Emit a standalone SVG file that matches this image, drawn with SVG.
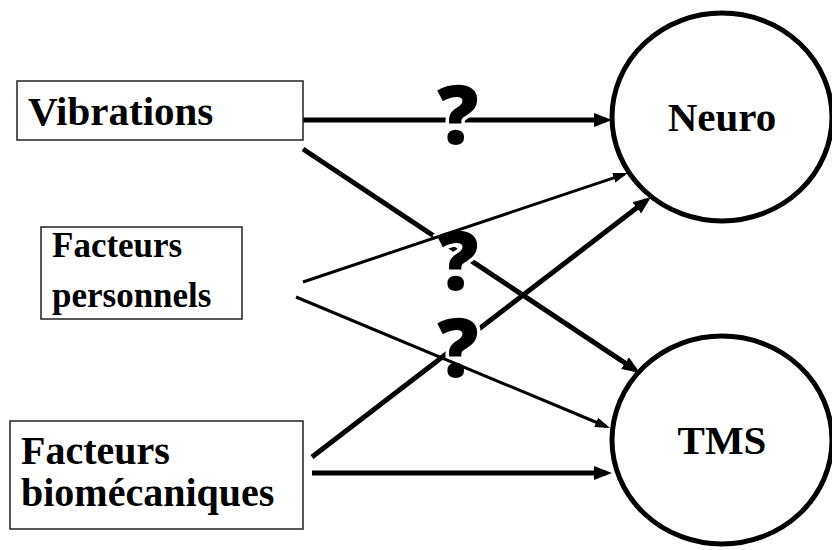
<svg xmlns="http://www.w3.org/2000/svg" width="832" height="550" viewBox="0 0 832 550">
<style>
.box{fill:#fff;stroke:#222;stroke-width:1.5}
.lbl{font-family:"Liberation Serif","Times New Roman",serif;font-weight:bold;fill:#000}
.ell{fill:#fff;stroke:#000;stroke-width:5}
.thick{stroke:#000;stroke-width:5;fill:none}
.thin{stroke:#000;stroke-width:3;fill:none}
.q{font-family:"Open Sans","DejaVu Sans",sans-serif;font-weight:800;font-size:82px;fill:#000;stroke:#fff;stroke-width:7;paint-order:stroke;text-anchor:middle}
</style>
<defs>
<marker id="ahT" markerUnits="userSpaceOnUse" markerWidth="18" markerHeight="16" viewBox="0 0 18 16" refX="12" refY="8" orient="auto">
<path d="M0,1 L18,8 L0,15 Z" fill="#000"/>
</marker>
<marker id="aht" markerUnits="userSpaceOnUse" markerWidth="15" markerHeight="12" viewBox="0 0 15 12" refX="11" refY="6" orient="auto">
<path d="M0,1 L15,6 L0,11 Z" fill="#000"/>
</marker>
</defs>
<rect width="832" height="550" fill="#fff"/>
<g id="connectors">
<line class="thick" x1="303" y1="120" x2="606" y2="120" marker-end="url(#ahT)"/>
<line class="thick" x1="303" y1="149" x2="635" y2="369.7" marker-end="url(#ahT)"/>
<line class="thick" x1="312" y1="457" x2="646.3" y2="200.6" marker-end="url(#ahT)"/>
<line class="thick" x1="312" y1="473" x2="606" y2="473" marker-end="url(#ahT)"/>
<text class="q" x="458" y="144">?</text>
<text class="q" x="458" y="290">?</text>
<text class="q" x="458" y="377">?</text>
<line class="thin" x1="303" y1="282" x2="624.2" y2="174.3" marker-end="url(#aht)"/>
<line class="thin" x1="296" y1="297" x2="606.3" y2="426.5" marker-end="url(#aht)"/>
</g>
<g id="vibrations">
<rect class="box" x="17" y="81" width="286" height="59"/>
<text class="lbl" x="28" y="125" font-size="41">Vibrations</text>
</g>
<g id="personnels">
<rect class="box" x="41" y="227" width="201" height="92"/>
<text class="lbl" x="52" y="257" font-size="35">Facteurs</text>
<text class="lbl" x="52" y="307" font-size="35">personnels</text>
</g>
<g id="biomecaniques">
<rect class="box" x="10" y="421" width="293" height="108"/>
<text class="lbl" x="21" y="464" font-size="40">Facteurs</text>
<text class="lbl" x="21" y="506" font-size="40">biomécaniques</text>
</g>
<g id="neuro">
<ellipse class="ell" cx="722" cy="117" rx="110" ry="104"/>
<text class="lbl" x="722" y="131" font-size="41" text-anchor="middle">Neuro</text>
</g>
<g id="tms">
<ellipse class="ell" cx="722" cy="440" rx="110" ry="104"/>
<text class="lbl" x="722" y="454" font-size="41" text-anchor="middle">TMS</text>
</g>
</svg>
